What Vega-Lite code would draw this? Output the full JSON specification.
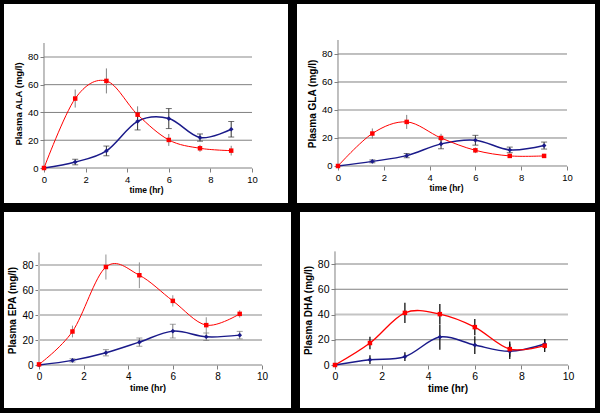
{
  "$schema": "https://vega.github.io/schema/vega-lite/v6.json",
  "background": "black",
  "padding": {"left": 4, "top": 4, "right": 5, "bottom": 5},
  "config": {
    "view": {"stroke": null, "fill": "white"},
    "font": "Liberation Sans",
    "axis": {"labelFont": "Liberation Sans", "titleFont": "Liberation Sans", "labelColor": "black", "titleColor": "black", "tickColor": "#808080", "tickSize": 4, "domain": false, "grid": false, "labelFlush": false, "labelPadding": 2, "titleFontWeight": "bold"}
  },
  "datasets": {
    "d": [
      {"p": "ALA", "s": "r", "t": 0, "v": 0, "e": 0},
      {"p": "ALA", "s": "r", "t": 1.5, "v": 50, "e": 6.5},
      {"p": "ALA", "s": "r", "t": 3, "v": 62.7, "e": 9},
      {"p": "ALA", "s": "r", "t": 4.5, "v": 38.4, "e": 6},
      {"p": "ALA", "s": "r", "t": 6, "v": 20.2, "e": 4.3},
      {"p": "ALA", "s": "r", "t": 7.5, "v": 14.2, "e": 2.5},
      {"p": "ALA", "s": "r", "t": 9, "v": 12.5, "e": 3.5},
      {"p": "ALA", "s": "b", "t": 0, "v": 0, "e": 0},
      {"p": "ALA", "s": "b", "t": 1.5, "v": 4.3, "e": 2},
      {"p": "ALA", "s": "b", "t": 3, "v": 12.3, "e": 3.5},
      {"p": "ALA", "s": "b", "t": 4.5, "v": 33.6, "e": 6.2},
      {"p": "ALA", "s": "b", "t": 6, "v": 35.6, "e": 7.2},
      {"p": "ALA", "s": "b", "t": 7.5, "v": 21.9, "e": 2.6},
      {"p": "ALA", "s": "b", "t": 9, "v": 27.9, "e": 5.6},
      {"p": "GLA", "s": "r", "t": 0, "v": 0, "e": 0},
      {"p": "GLA", "s": "r", "t": 1.5, "v": 23.2, "e": 3.6},
      {"p": "GLA", "s": "r", "t": 3, "v": 31.5, "e": 5},
      {"p": "GLA", "s": "r", "t": 4.5, "v": 20, "e": 3},
      {"p": "GLA", "s": "r", "t": 6, "v": 11.2, "e": 2},
      {"p": "GLA", "s": "r", "t": 7.5, "v": 7.2, "e": 1.5},
      {"p": "GLA", "s": "r", "t": 9, "v": 7.2, "e": 1.5},
      {"p": "GLA", "s": "b", "t": 0, "v": 0, "e": 0},
      {"p": "GLA", "s": "b", "t": 1.5, "v": 3.3, "e": 1},
      {"p": "GLA", "s": "b", "t": 3, "v": 7.4, "e": 1.5},
      {"p": "GLA", "s": "b", "t": 4.5, "v": 15.8, "e": 3.5},
      {"p": "GLA", "s": "b", "t": 6, "v": 18.4, "e": 3.5},
      {"p": "GLA", "s": "b", "t": 7.5, "v": 11.5, "e": 2},
      {"p": "GLA", "s": "b", "t": 9, "v": 14.6, "e": 2.5},
      {"p": "EPA", "s": "r", "t": 0, "v": 0.5, "e": 0},
      {"p": "EPA", "s": "r", "t": 1.5, "v": 26.8, "e": 4.7},
      {"p": "EPA", "s": "r", "t": 3, "v": 78.4, "e": 10},
      {"p": "EPA", "s": "r", "t": 4.5, "v": 71.8, "e": 10.3},
      {"p": "EPA", "s": "r", "t": 6, "v": 51.3, "e": 4.5},
      {"p": "EPA", "s": "r", "t": 7.5, "v": 31.9, "e": 6.3},
      {"p": "EPA", "s": "r", "t": 9, "v": 40.9, "e": 3},
      {"p": "EPA", "s": "b", "t": 0, "v": 0, "e": 0},
      {"p": "EPA", "s": "b", "t": 1.5, "v": 3.7, "e": 1.3},
      {"p": "EPA", "s": "b", "t": 3, "v": 9.8, "e": 2.5},
      {"p": "EPA", "s": "b", "t": 4.5, "v": 18.3, "e": 3.3},
      {"p": "EPA", "s": "b", "t": 6, "v": 27.1, "e": 5.5},
      {"p": "EPA", "s": "b", "t": 7.5, "v": 22.6, "e": 3},
      {"p": "EPA", "s": "b", "t": 9, "v": 23.9, "e": 3},
      {"p": "DHA", "s": "r", "t": 0, "v": 0, "e": 0},
      {"p": "DHA", "s": "r", "t": 1.5, "v": 17.4, "e": 5},
      {"p": "DHA", "s": "r", "t": 3, "v": 41.3, "e": 8},
      {"p": "DHA", "s": "r", "t": 4.5, "v": 40.3, "e": 8},
      {"p": "DHA", "s": "r", "t": 6, "v": 30, "e": 6.5},
      {"p": "DHA", "s": "r", "t": 7.5, "v": 12.6, "e": 6},
      {"p": "DHA", "s": "r", "t": 9, "v": 15.3, "e": 5},
      {"p": "DHA", "s": "b", "t": 0, "v": 0, "e": 0},
      {"p": "DHA", "s": "b", "t": 1.5, "v": 4.2, "e": 3.5},
      {"p": "DHA", "s": "b", "t": 3, "v": 6.6, "e": 3.5},
      {"p": "DHA", "s": "b", "t": 4.5, "v": 22.1, "e": 10},
      {"p": "DHA", "s": "b", "t": 6, "v": 15.8, "e": 7},
      {"p": "DHA", "s": "b", "t": 7.5, "v": 10.8, "e": 6},
      {"p": "DHA", "s": "b", "t": 9, "v": 16.6, "e": 4}
    ]
  },
  "vconcat": [
    {
      "hconcat": [
        {
          "width": 284, "height": 199,
          "data": {"name": "d"},
          "encoding": {
            "x": {"field": "t", "type": "quantitative", "title": "time (hr)", "scale": {"domain": [-1.923, 11.731], "nice": false, "zero": false},
                  "axis": {"values": [0, 2, 4, 6, 8, 10], "offset": -35, "titleFontSize": 8.5, "labelFontSize": 9.5, "titlePadding": 2}},
            "y": {"field": "v", "type": "quantitative", "title": "Plasma ALA (mg/l)", "scale": {"domain": [-25.2, 118.08], "nice": false, "zero": false},
                  "axis": {"values": [0, 20, 40, 60, 80], "offset": -40, "titleFontSize": 9.5, "labelFontSize": 9.5, "titlePadding": 4}}
          },
          "layer": [
            {"transform": [{"filter": "datum.p == 'ALA' && datum.s == 'r' && datum.t == 0"}],
             "layer": [
               {"mark": {"type": "rule", "color": "#808080"}, "encoding": {"x": {"datum": 0}, "x2": {"datum": 10}, "y": {"datum": 20}}},
               {"mark": {"type": "rule", "color": "#808080"}, "encoding": {"x": {"datum": 0}, "x2": {"datum": 10}, "y": {"datum": 40}}},
               {"mark": {"type": "rule", "color": "#808080"}, "encoding": {"x": {"datum": 0}, "x2": {"datum": 10}, "y": {"datum": 60}}},
               {"mark": {"type": "rule", "color": "#c4c4c4", "strokeWidth": 2}, "encoding": {"x": {"datum": 0}, "x2": {"datum": 10}, "y": {"datum": 80}}},
               {"mark": {"type": "rule", "color": "#808080"}, "encoding": {"x": {"datum": 0}, "x2": {"datum": 10}, "y": {"datum": 0}}},
               {"mark": {"type": "rule", "color": "#808080"}, "encoding": {"x": {"datum": 0}, "y": {"datum": 0}, "y2": {"datum": 90}}}
             ]},
            {"transform": [{"filter": "datum.p == 'ALA' && datum.s == 'r' && datum.t > 0"}], "mark": {"type": "errorbar", "color": "#808080", "thickness": 1}, "encoding": {"yError": {"field": "e"}}},
            {"transform": [{"filter": "datum.p == 'ALA' && datum.s == 'b' && datum.t > 0"}], "mark": {"type": "errorbar", "color": "#333333", "thickness": 1, "ticks": {"size": 6, "color": "#333333"}}, "encoding": {"yError": {"field": "e"}}},
            {"transform": [{"filter": "datum.p == 'ALA' && datum.s == 'b'"}], "mark": {"type": "line", "interpolate": "cardinal", "color": "#1a1a8a", "strokeWidth": 1.5}},
            {"transform": [{"filter": "datum.p == 'ALA' && datum.s == 'r'"}], "mark": {"type": "line", "interpolate": "cardinal", "color": "#ff0000", "strokeWidth": 1}},
            {"transform": [{"filter": "datum.p == 'ALA' && datum.s == 'b'"}], "mark": {"type": "point", "shape": "diamond", "filled": true, "opacity": 1, "size": 22, "color": "#1a1a8a"}},
            {"transform": [{"filter": "datum.p == 'ALA' && datum.s == 'r'"}], "mark": {"type": "square", "opacity": 1, "size": 20, "color": "#ff0000"}}
          ]
        },
        {
          "width": 298, "height": 199,
          "data": {"name": "d"},
          "encoding": {
            "x": {"field": "t", "type": "quantitative", "title": "time (hr)", "scale": {"domain": [-1.79, 11.223], "nice": false, "zero": false},
                  "axis": {"values": [0, 2, 4, 6, 8, 10], "offset": -37, "titleFontSize": 8.5, "labelFontSize": 9.5, "titlePadding": 2}},
            "y": {"field": "v", "type": "quantitative", "title": "Plasma GLA (mg/l)", "scale": {"domain": [-26.43, 115.71], "nice": false, "zero": false},
                  "axis": {"values": [0, 20, 40, 60, 80], "offset": -41, "titleFontSize": 10, "labelFontSize": 9.5, "titlePadding": 4}}
          },
          "layer": [
            {"transform": [{"filter": "datum.p == 'GLA' && datum.s == 'r' && datum.t == 0"}],
             "layer": [
               {"mark": {"type": "rule", "color": "#808080"}, "encoding": {"x": {"datum": 0}, "x2": {"datum": 10}, "y": {"datum": 20}}},
               {"mark": {"type": "rule", "color": "#c4c4c4", "strokeWidth": 2}, "encoding": {"x": {"datum": 0}, "x2": {"datum": 10}, "y": {"datum": 40}}},
               {"mark": {"type": "rule", "color": "#808080"}, "encoding": {"x": {"datum": 0}, "x2": {"datum": 10}, "y": {"datum": 60}}},
               {"mark": {"type": "rule", "color": "#808080"}, "encoding": {"x": {"datum": 0}, "x2": {"datum": 10}, "y": {"datum": 80}}},
               {"mark": {"type": "rule", "color": "#808080"}, "encoding": {"x": {"datum": 0}, "x2": {"datum": 10}, "y": {"datum": 0}}},
               {"mark": {"type": "rule", "color": "#808080"}, "encoding": {"x": {"datum": 0}, "y": {"datum": 0}, "y2": {"datum": 90}}}
             ]},
            {"transform": [{"filter": "datum.p == 'GLA' && datum.s == 'r' && datum.t > 0"}], "mark": {"type": "errorbar", "color": "#808080", "thickness": 1}, "encoding": {"yError": {"field": "e"}}},
            {"transform": [{"filter": "datum.p == 'GLA' && datum.s == 'b' && datum.t > 0"}], "mark": {"type": "errorbar", "color": "#333333", "thickness": 1, "ticks": {"size": 6, "color": "#333333"}}, "encoding": {"yError": {"field": "e"}}},
            {"transform": [{"filter": "datum.p == 'GLA' && datum.s == 'b'"}], "mark": {"type": "line", "interpolate": "cardinal", "color": "#1a1a8a", "strokeWidth": 1.5}},
            {"transform": [{"filter": "datum.p == 'GLA' && datum.s == 'r'"}], "mark": {"type": "line", "interpolate": "cardinal", "color": "#ff0000", "strokeWidth": 1}},
            {"transform": [{"filter": "datum.p == 'GLA' && datum.s == 'b'"}], "mark": {"type": "point", "shape": "diamond", "filled": true, "opacity": 1, "size": 22, "color": "#1a1a8a"}},
            {"transform": [{"filter": "datum.p == 'GLA' && datum.s == 'r'"}], "mark": {"type": "square", "opacity": 1, "size": 20, "color": "#ff0000"}}
          ]
        }
      ],
      "spacing": 9, "bounds": "flush"
    },
    {
      "hconcat": [
        {
          "width": 287, "height": 196,
          "data": {"name": "d"},
          "encoding": {
            "x": {"field": "t", "type": "quantitative", "title": "time (hr)", "scale": {"domain": [-1.57, 11.3], "nice": false, "zero": false},
                  "axis": {"values": [0, 2, 4, 6, 8, 10], "offset": -43, "titleFontSize": 9, "labelFontSize": 10, "titlePadding": 2}},
            "y": {"field": "v", "type": "quantitative", "title": "Plasma EPA (mg/l)", "scale": {"domain": [-34.4, 122.4], "nice": false, "zero": false},
                  "axis": {"values": [0, 20, 40, 60, 80], "offset": -35, "titleFontSize": 10, "labelFontSize": 10, "titlePadding": 4}}
          },
          "layer": [
            {"transform": [{"filter": "datum.p == 'EPA' && datum.s == 'r' && datum.t == 0"}],
             "layer": [
               {"mark": {"type": "rule", "color": "#808080"}, "encoding": {"x": {"datum": 0}, "x2": {"datum": 10}, "y": {"datum": 20}}},
               {"mark": {"type": "rule", "color": "#c4c4c4", "strokeWidth": 2}, "encoding": {"x": {"datum": 0}, "x2": {"datum": 10}, "y": {"datum": 40}}},
               {"mark": {"type": "rule", "color": "#808080"}, "encoding": {"x": {"datum": 0}, "x2": {"datum": 10}, "y": {"datum": 60}}},
               {"mark": {"type": "rule", "color": "#c4c4c4", "strokeWidth": 2}, "encoding": {"x": {"datum": 0}, "x2": {"datum": 10}, "y": {"datum": 80}}},
               {"mark": {"type": "rule", "color": "#808080"}, "encoding": {"x": {"datum": 0}, "x2": {"datum": 10}, "y": {"datum": 0}}},
               {"mark": {"type": "rule", "color": "#c4c4c4", "strokeWidth": 2}, "encoding": {"x": {"datum": 0}, "y": {"datum": 0}, "y2": {"datum": 90}}}
             ]},
            {"transform": [{"filter": "datum.p == 'EPA' && datum.s == 'r' && datum.t > 0"}], "mark": {"type": "errorbar", "color": "#909090", "thickness": 1}, "encoding": {"yError": {"field": "e"}}},
            {"transform": [{"filter": "datum.p == 'EPA' && datum.s == 'b' && datum.t > 0"}], "mark": {"type": "errorbar", "color": "#777777", "thickness": 1, "ticks": {"size": 6, "color": "#777777"}}, "encoding": {"yError": {"field": "e"}}},
            {"transform": [{"filter": "datum.p == 'EPA' && datum.s == 'b'"}], "mark": {"type": "line", "interpolate": "cardinal", "color": "#1a1a8a", "strokeWidth": 1.5}},
            {"transform": [{"filter": "datum.p == 'EPA' && datum.s == 'r'"}], "mark": {"type": "line", "interpolate": "cardinal", "color": "#ff0000", "strokeWidth": 1}},
            {"transform": [{"filter": "datum.p == 'EPA' && datum.s == 'b'"}], "mark": {"type": "point", "shape": "diamond", "filled": true, "opacity": 1, "size": 22, "color": "#1a1a8a"}},
            {"transform": [{"filter": "datum.p == 'EPA' && datum.s == 'r'"}], "mark": {"type": "square", "opacity": 1, "size": 20, "color": "#ff0000"}}
          ]
        },
        {
          "width": 295, "height": 196,
          "data": {"name": "d"},
          "encoding": {
            "x": {"field": "t", "type": "quantitative", "title": "time (hr)", "scale": {"domain": [-1.502, 11.159], "nice": false, "zero": false},
                  "axis": {"values": [0, 2, 4, 6, 8, 10], "offset": -43, "titleFontSize": 10, "labelFontSize": 10.5, "titlePadding": 2}},
            "y": {"field": "v", "type": "quantitative", "title": "Plasma DHA (mg/l)", "scale": {"domain": [-34.06, 121.2], "nice": false, "zero": false},
                  "axis": {"values": [0, 20, 40, 60, 80], "offset": -35, "titleFontSize": 10, "labelFontSize": 10.5, "titlePadding": 4}}
          },
          "layer": [
            {"transform": [{"filter": "datum.p == 'DHA' && datum.s == 'r' && datum.t == 0"}],
             "layer": [
               {"mark": {"type": "rule", "color": "#808080"}, "encoding": {"x": {"datum": 0}, "x2": {"datum": 10}, "y": {"datum": 20}}},
               {"mark": {"type": "rule", "color": "#c4c4c4", "strokeWidth": 2}, "encoding": {"x": {"datum": 0}, "x2": {"datum": 10}, "y": {"datum": 40}}},
               {"mark": {"type": "rule", "color": "#808080"}, "encoding": {"x": {"datum": 0}, "x2": {"datum": 10}, "y": {"datum": 60}}},
               {"mark": {"type": "rule", "color": "#808080"}, "encoding": {"x": {"datum": 0}, "x2": {"datum": 10}, "y": {"datum": 80}}},
               {"mark": {"type": "rule", "color": "#808080"}, "encoding": {"x": {"datum": 0}, "x2": {"datum": 10}, "y": {"datum": 0}}},
               {"mark": {"type": "rule", "color": "#808080"}, "encoding": {"x": {"datum": 0}, "y": {"datum": 0}, "y2": {"datum": 90}}}
             ]},
            {"transform": [{"filter": "datum.p == 'DHA' && datum.t > 0"}], "mark": {"type": "errorbar", "color": "#111111", "thickness": 1.3}, "encoding": {"yError": {"field": "e"}, "detail": {"field": "s"}}},
            {"transform": [{"filter": "datum.p == 'DHA' && datum.s == 'b'"}], "mark": {"type": "line", "interpolate": "cardinal", "color": "#1a1a8a", "strokeWidth": 1.5}},
            {"transform": [{"filter": "datum.p == 'DHA' && datum.s == 'r'"}], "mark": {"type": "line", "interpolate": "cardinal", "color": "#ff0000", "strokeWidth": 1.3}},
            {"transform": [{"filter": "datum.p == 'DHA' && datum.s == 'b'"}], "mark": {"type": "point", "shape": "diamond", "filled": true, "opacity": 1, "size": 22, "color": "#1a1a8a"}},
            {"transform": [{"filter": "datum.p == 'DHA' && datum.s == 'r'"}], "mark": {"type": "square", "opacity": 1, "size": 20, "color": "#ff0000"}}
          ]
        }
      ],
      "spacing": 9, "bounds": "flush"
    }
  ],
  "spacing": 9
}
